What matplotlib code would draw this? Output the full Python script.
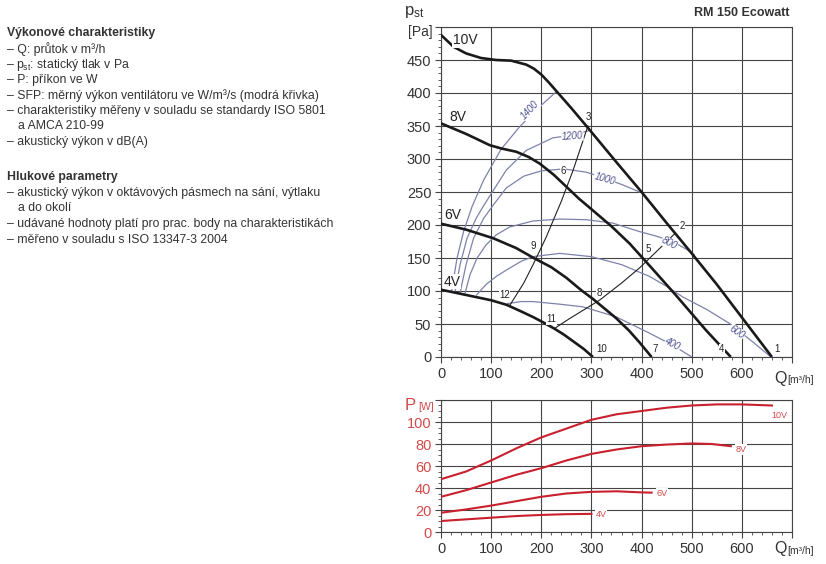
import matplotlib
matplotlib.use('Agg')
import matplotlib.pyplot as plt
from matplotlib.ticker import MultipleLocator

plt.rcParams['font.family'] = ['Liberation Sans', 'DejaVu Sans']

# --- data: fan curves (Q m3/h, pst Pa) ---
q_10v = [0, 25, 50, 80, 110, 140, 170, 185, 200, 215, 230, 245, 260, 290, 350, 400, 450, 500, 550, 600, 660]
p_10v = [488, 470, 460, 453, 450, 449, 443, 437, 428, 416, 403, 390, 377, 350, 295, 250, 203, 157, 110, 60, 0]
q_8v = [0, 25, 50, 75, 97, 120, 150, 175, 197, 225, 250, 275, 303, 340, 376, 420, 468, 528, 578]
p_8v = [354, 346, 338, 329, 321, 316, 311, 303, 293, 276, 258, 240, 222, 198, 172, 135, 94, 41, 0]
q_6v = [0, 50, 104, 150, 185, 220, 250, 280, 303, 330, 349, 375, 396, 420]
p_6v = [202, 193, 180, 165, 150, 136, 120, 101, 88, 71, 59, 40, 22, 0]
q_4v = [0, 50, 100, 131, 160, 185, 205, 226, 245, 265, 285, 303]
p_4v = [102, 94, 86, 79, 69, 60, 52, 43, 34, 23, 12, 0]

# SFP curves (modra krivka)
sfp_1400_q = [21, 32, 45, 62, 85, 120, 157, 195, 230]
sfp_1400_p = [99, 150, 190, 228, 268, 315, 349, 378, 402]
sfp_1200_q = [28, 38, 52, 70, 84, 104, 130, 170, 223, 260, 295]
sfp_1200_p = [99, 140, 180, 210, 228, 252, 283, 313, 332, 336, 343]
sfp_1000_q = [38, 50, 65, 85, 104, 130, 165, 200, 245, 290, 330, 365, 396]
sfp_1000_p = [97, 140, 180, 210, 230, 256, 274, 282, 285, 280, 270, 260, 250]
sfp_800_q = [48, 58, 72, 90, 110, 137, 183, 237, 290, 342, 396, 430, 462, 490, 505]
sfp_800_p = [97, 125, 150, 170, 185, 197, 206, 209, 208, 203, 190, 183, 175, 163, 155]
sfp_600_q = [71, 90, 110, 131, 160, 183, 237, 300, 360, 416, 450, 482, 530, 575, 620, 658]
sfp_600_p = [94, 110, 122, 132, 145, 152, 157, 152, 140, 122, 107, 91, 72, 51, 24, 0]
sfp_400_q = [133, 160, 183, 237, 283, 349, 416, 462, 500]
sfp_400_p = [81, 84, 84, 80, 76, 61, 36, 18, 0]

# system curves through operating points
sys_a_q = [137, 165, 185, 210, 240, 263, 293]
sys_a_p = [78, 112, 142, 182, 236, 282, 350]
sys_b_q = [228, 256, 316, 360, 396, 430, 465]
sys_b_p = [44, 58, 86, 112, 135, 160, 186]

# operating point numbers
pt_names = ['1', '2', '3', '4', '5', '6', '7', '8', '9', '10', '11', '12']
pt_q = [670, 481, 293, 560, 414, 243, 428, 315, 183, 320, 220, 127]
pt_p = [12, 198, 364, 12, 164, 282, 12, 97, 168, 12, 57, 94]

sfp_names = ['1400', '1200', '1000', '800', '600', '400']
sfp_lab_q = [178, 262, 326, 455, 590, 462]
sfp_lab_p = [374, 335, 270, 172, 38, 19]
sfp_lab_rot = [47, 4, -16, -28, -35, -28]

# --- power (P W) ---
pq_10v = [0, 50, 100, 150, 200, 250, 300, 350, 400, 450, 500, 550, 600, 660]
pw_10v = [48, 55, 65, 76, 86, 94, 102, 107, 110, 113, 115, 116, 116, 115]
pq_8v = [0, 50, 100, 150, 200, 250, 300, 350, 400, 450, 500, 540, 578]
pw_8v = [32, 38, 45, 52, 58, 65, 71, 75, 78, 79.5, 80.5, 80, 78]
pq_6v = [0, 50, 100, 150, 200, 250, 300, 350, 400, 420]
pw_6v = [17.5, 20.5, 24, 28, 32, 35, 36.5, 37, 36, 35.8]
pq_4v = [0, 50, 100, 150, 200, 250, 300]
pw_4v = [10, 11.5, 13, 14.5, 15.5, 16.2, 16.5]

grid_c = '#444444'
txt_c = '#333333'
blue = '#7d82aa'
blue_txt = '#4c5190'
red = '#c8202e'
red_txt = '#d24a4a'

fig = plt.figure(figsize=(8.26, 5.64), dpi=100)

# ---------- left text ----------
left_lines = [
    (33, 7, 'Výkonové charakteristiky', 'bold'),
    (49, 7, '– Q: průtok v m³/h', 'normal'),
    (65, 7, '–', 'normal'),
    (65, 15.5, 'p$_\\mathregular{st}$: statický tlak v Pa', 'normal'),
    (80, 7, '– P: příkon ve W', 'normal'),
    (96, 7, '– SFP: měrný výkon ventilátoru ve W/m³/s (modrá křivka)', 'normal'),
    (111, 7, '– charakteristiky měřeny v souladu se standardy ISO 5801', 'normal'),
    (126, 18, 'a AMCA 210-99', 'normal'),
    (142, 7, '– akustický výkon v dB(A)', 'normal'),
    (177, 7, 'Hlukové parametry', 'bold'),
    (193, 7, '– akustický výkon v oktávových pásmech na sání, výtlaku', 'normal'),
    (208, 18, 'a do okolí', 'normal'),
    (224, 7, '– udávané hodnoty platí pro prac. body na charakteristikách', 'normal'),
    (240, 7, '– měřeno v souladu s ISO 13347-3 2004', 'normal'),
]
for ypx, xpx, s, w in left_lines:
    fig.text(xpx / 826, 1 - ypx / 564, s, fontsize=8.8, weight=w, color=txt_c,
             va='center', ha='left')

# ---------- top chart ----------
ax = fig.add_axes([441 / 826, 1 - 357 / 564, 351 / 826, 330 / 564])
ax.set_xlim(0, 700)
ax.set_ylim(0, 500)

for q, p in [(sfp_1400_q, sfp_1400_p), (sfp_1200_q, sfp_1200_p), (sfp_1000_q, sfp_1000_p),
             (sfp_800_q, sfp_800_p), (sfp_600_q, sfp_600_p), (sfp_400_q, sfp_400_p)]:
    ax.plot(q, p, color=blue, lw=0.9, zorder=3)

ax.plot(sys_a_q, sys_a_p, color='#222222', lw=0.8, zorder=3)
ax.plot(sys_b_q, sys_b_p, color='#222222', lw=0.8, zorder=3)

for q, p in [(q_10v, p_10v), (q_8v, p_8v), (q_6v, p_6v), (q_4v, p_4v)]:
    ax.plot(q, p, color='#1a1a1a', lw=1.9, zorder=4, solid_capstyle='butt')

for s, x, y, r in zip(sfp_names, sfp_lab_q, sfp_lab_p, sfp_lab_rot):
    ax.text(x, y, s, fontsize=7, color=blue_txt, style='italic', rotation=r,
            ha='center', va='center', zorder=5,
            bbox=dict(fc='white', ec='none', pad=0.3))

for s, x, y in zip(pt_names, pt_q, pt_p):
    ax.text(x, y, s, fontsize=7, color='#222222', ha='center', va='center', zorder=5,
            bbox=dict(fc='white', ec='none', pad=0.3))

for s, x, y in [('10V', 48, 480), ('8V', 34, 364), ('6V', 24, 215), ('4V', 22, 114)]:
    ax.text(x, y, s, fontsize=10, color='#222222', ha='center', va='center', zorder=5,
            bbox=dict(fc='white', ec='none', pad=0.5))

ax.xaxis.set_minor_locator(MultipleLocator(20))
ax.yaxis.set_minor_locator(MultipleLocator(10))
ax.set_xticks(range(0, 701, 100))
ax.set_xticklabels([str(v) for v in range(0, 601, 100)] + [''])
ax.set_yticks(range(0, 501, 50))
ax.set_yticklabels([str(v) for v in range(0, 451, 50)] + [''])
ax.grid(True, which='major', color=grid_c, lw=0.8)
ax.tick_params(which='both', direction='out', color=grid_c, labelsize=10.5,
               labelcolor=txt_c)
ax.tick_params(which='major', length=4, width=0.8, pad=3)
ax.tick_params(which='minor', length=2.5, width=0.6)
for sp in ax.spines.values():
    sp.set_color(grid_c)
    sp.set_linewidth(0.8)

fig.text(414 / 826, 1 - 12 / 564, '$\\mathregular{p_{st}}$', fontsize=12, color=txt_c,
         ha='center', va='center')
fig.text(420 / 826, 1 - 32 / 564, '[Pa]', fontsize=10, color=txt_c, ha='center', va='center')
fig.text(790 / 826, 1 - 13 / 564, 'RM 150 Ecowatt', fontsize=9, weight='bold', color=txt_c,
         ha='right', va='center')
fig.text(780 / 826, 1 - 378 / 564, 'Q', fontsize=11.5, color=txt_c, ha='center', va='center')
fig.text(787 / 826, 1 - 380 / 564, '[m³/h]', fontsize=7.5, color=txt_c, ha='left', va='center')

# ---------- bottom chart ----------
bx = fig.add_axes([441 / 826, 1 - 532 / 564, 351 / 826, 132 / 564])
bx.set_xlim(0, 700)
bx.set_ylim(0, 120)

for q, w in [(pq_10v, pw_10v), (pq_8v, pw_8v), (pq_6v, pw_6v), (pq_4v, pw_4v)]:
    bx.plot(q, w, color=red, lw=1.5, zorder=4)

for s, x, y in [('10V', 675, 106), ('8V', 598, 75), ('6V', 440, 35), ('4V', 320, 16)]:
    bx.text(x, y, s, fontsize=6.5, color=red_txt, ha='center', va='center', zorder=5,
            bbox=dict(fc='white', ec='none', pad=0.4))

bx.set_xticks(range(0, 701, 100))
bx.set_xticklabels([str(v) for v in range(0, 601, 100)] + [''])
bx.set_yticks(range(0, 121, 20))
bx.set_yticklabels([str(v) for v in range(0, 101, 20)] + [''])
bx.xaxis.set_minor_locator(MultipleLocator(20))
bx.yaxis.set_minor_locator(MultipleLocator(5))
bx.grid(True, which='major', color=grid_c, lw=0.8)
bx.tick_params(which='both', direction='out', color=grid_c, labelsize=10.5)
bx.tick_params(axis='x', labelcolor=txt_c)
bx.tick_params(axis='y', labelcolor=red_txt)
bx.tick_params(which='major', length=4, width=0.8, pad=3)
bx.tick_params(which='minor', length=2.5, width=0.6)
for sp in bx.spines.values():
    sp.set_color(grid_c)
    sp.set_linewidth(0.8)

fig.text(410 / 826, 1 - 406 / 564, 'P', fontsize=12, color=red_txt, ha='center', va='center')
fig.text(418 / 826, 1 - 407 / 564, '[W]', fontsize=7.5, color=red_txt, ha='left', va='center')
fig.text(780 / 826, 1 - 549 / 564, 'Q', fontsize=11.5, color=txt_c, ha='center', va='center')
fig.text(787 / 826, 1 - 551 / 564, '[m³/h]', fontsize=7.5, color=txt_c, ha='left', va='center')

fig.savefig('out.png', dpi=100)
